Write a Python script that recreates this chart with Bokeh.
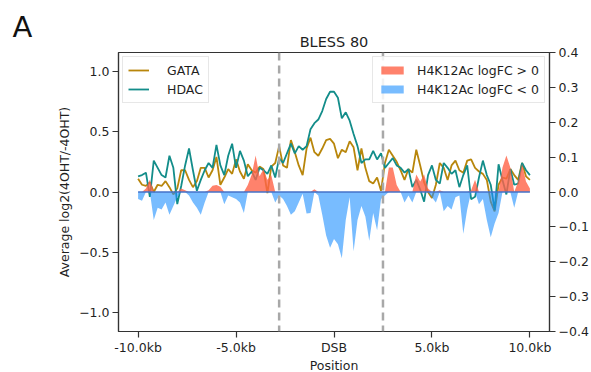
import numpy as np
from bokeh.plotting import figure
from bokeh.models import Range1d, LinearAxis, FixedTicker, Span, Legend, LegendItem, Title
from bokeh.embed import file_html
from bokeh.resources import INLINE

# ---------------- data ----------------
positions_kb = np.linspace(-10, 10, 101)

gata = [0.11, 0.06, 0.05, 0.08, 0.00, 0.06, 0.05, 0.09, 0.04, -0.02,
        0.03, 0.18, 0.18, 0.10, 0.04, 0.09, 0.20, 0.20, 0.12, 0.18,
        0.29, 0.06, 0.12, 0.19, 0.15, 0.27, 0.17, 0.11, 0.23, 0.18,
        0.16, 0.21, 0.19, -0.01, 0.21, 0.24, 0.38, 0.22, 0.20, 0.43,
        0.33, 0.22, 0.14, 0.36, 0.45, 0.33, 0.30, 0.36, 0.43, 0.44,
        0.40, 0.28, 0.35, 0.33, 0.42, 0.37, 0.18, 0.36, 0.20, 0.09,
        0.07, 0.12, 0.01, 0.24, 0.35, 0.30, 0.25, 0.18, 0.10, 0.19,
        0.16, 0.35, 0.22, 0.08, 0.00, -0.05, 0.06, 0.24, 0.20, 0.10,
        0.22, 0.26, 0.18, 0.16, 0.26, 0.27, 0.20, 0.17, 0.15, 0.10,
        -0.08, -0.16, 0.06, 0.12, 0.11, 0.19, 0.14, 0.10, 0.24, 0.13,
        0.10]

hdac = [0.13, 0.14, 0.16, -0.04, 0.26, 0.20, 0.14, 0.12, 0.30, 0.20,
        -0.10, 0.05, 0.22, 0.36, 0.18, 0.01, 0.10, 0.18, 0.24, 0.20,
        0.39, 0.22, 0.14, 0.30, 0.40, 0.20, 0.34, 0.26, 0.13, 0.17,
        0.10, 0.20, 0.18, 0.15, 0.22, 0.12, 0.28, 0.24, 0.32, 0.40,
        0.32, 0.38, 0.35, 0.38, 0.52, 0.57, 0.60, 0.67, 0.77, 0.83,
        0.83, 0.78, 0.61, 0.66, 0.59, 0.48, 0.38, 0.24, 0.27, 0.27,
        0.34, 0.27, 0.32, 0.20, 0.24, 0.28, 0.22, 0.20, 0.16, 0.19,
        0.04, 0.10, 0.02, -0.08, 0.14, 0.22, 0.10, 0.07, 0.24, 0.20,
        0.15, 0.18, 0.04, 0.14, 0.22, -0.06, -0.04, 0.12, 0.26, 0.14,
        0.06, -0.15, 0.23, 0.10, -0.02, 0.19, 0.06, 0.07, 0.24, 0.18,
        0.14]

h4k12ac = [-0.020, -0.025, 0.010, 0.035, -0.080, -0.045, -0.050, -0.030, -0.065, -0.040,
           -0.015, 0.010, 0.005, -0.010, -0.030, -0.045, -0.065, -0.030, 0.005, 0.018,
           0.020, 0.015, -0.035, -0.010, -0.015, -0.020, -0.030, -0.060, 0.020, 0.050,
           0.105, 0.045, 0.065, 0.035, 0.048, -0.030, -0.010, -0.020, -0.040, -0.065,
           -0.055, -0.030, -0.005, -0.062, -0.060, 0.008, -0.010, -0.065, -0.125, -0.160,
           -0.135, -0.150, -0.190, -0.080, -0.015, -0.170, -0.080, -0.040, -0.070, -0.140,
           -0.060, -0.110, -0.020, -0.010, 0.070, 0.070, 0.020, 0.000, -0.030, -0.010,
           -0.030, 0.050, 0.030, 0.050, 0.010, -0.015, -0.030, 0.005, -0.055, -0.040,
           -0.050, -0.015, -0.010, -0.120, -0.050, 0.005, 0.035, -0.035, -0.020, -0.080,
           -0.130, -0.090, -0.060, 0.070, 0.105, 0.070, -0.045, 0.030, 0.080, 0.030,
           0.010]

boundaries_kb = [-2.8, 2.5]

x_ticks = [-10, -5, 0, 5, 10]
x_tick_labels = ["-10.0kb", "-5.0kb", "DSB", "5.0kb", "10.0kb"]
left_ticks = [-1.0, -0.5, 0.0, 0.5, 1.0]
left_tick_labels = ["\u22121.0", "\u22120.5", "0.0", "0.5", "1.0"]
right_ticks = [-0.4, -0.3, -0.2, -0.1, 0.0, 0.1, 0.2, 0.3, 0.4]
right_tick_labels = ["\u22120.4", "\u22120.3", "\u22120.2", "\u22120.1", "0.0", "0.1", "0.2", "0.3", "0.4"]

# ---------------- styling ----------------
FONT = "DejaVu Sans"
TXT = "#1f1f1f"
GATA_C = "#B8860B"
HDAC_C = "#138D8A"

p = figure(frame_width=431, frame_height=279,
           min_border_left=118, min_border_right=41, min_border_top=52, min_border_bottom=40,
           x_range=Range1d(-11, 11), y_range=Range1d(-1.155, 1.155),
           output_backend="svg", toolbar_location=None, title="A")
p.extra_y_ranges = {"h4": Range1d(-0.4, 0.4)}

# panel letter (outermost title)
p.title.align = "left"
p.title.offset = -106
p.title.standoff = -28
p.title.text_font = FONT
p.title.text_font_size = "29px"
p.title.text_font_style = "normal"
p.title.text_color = "#111111"

# chart title (closest to the frame)
p.add_layout(Title(text="BLESS 80", align="center", standoff=5,
                   text_font=FONT, text_font_size="14.5px", text_font_style="normal",
                   text_color=TXT), "above")

p.xgrid.visible = False
p.ygrid.visible = False
p.outline_line_color = "#333333"
p.outline_line_width = 1.2
p.background_fill_color = "white"
p.border_fill_color = "white"

def style_axis(ax):
    ax.axis_line_color = "#333333"
    ax.axis_line_width = 1.2
    ax.major_tick_line_color = "#333333"
    ax.major_tick_line_width = 1.2
    ax.major_tick_out = 6
    ax.major_tick_in = 0
    ax.minor_tick_line_color = None
    ax.major_label_text_font = FONT
    ax.major_label_text_font_size = "12.5px"
    ax.major_label_text_color = TXT
    ax.major_label_standoff = 3
    ax.axis_label_text_font = FONT
    ax.axis_label_text_font_size = "12.5px"
    ax.axis_label_text_font_style = "normal"
    ax.axis_label_text_color = TXT

xa = p.xaxis[0]
style_axis(xa)
xa.ticker = FixedTicker(ticks=x_ticks)
xa.major_label_overrides = {t: l for t, l in zip(x_ticks, x_tick_labels)}
xa.axis_label = "Position"
xa.major_label_standoff = 2
xa.axis_label_standoff = 0

ya = p.yaxis[0]
style_axis(ya)
ya.ticker = FixedTicker(ticks=left_ticks)
ya.major_label_overrides = {t: l for t, l in zip(left_ticks, left_tick_labels)}
ya.axis_label = "Average log2(4OHT/-4OHT)"
ya.axis_label_standoff = 4

ra = LinearAxis(y_range_name="h4")
style_axis(ra)
ra.ticker = FixedTicker(ticks=right_ticks)
ra.major_label_overrides = {t: l for t, l in zip(right_ticks, right_tick_labels)}
p.add_layout(ra, "right")

# lines (left axis)
r_gata = p.line(positions_kb, gata, line_color=GATA_C, line_width=1.8)
r_hdac = p.line(positions_kb, hdac, line_color=HDAC_C, line_width=1.8)

# fills (right axis)
h4 = np.array(h4k12ac)
r_pos = p.varea(x=positions_kb, y1=0, y2=np.maximum(h4, 0), fill_color="tomato", fill_alpha=0.8,
                y_range_name="h4")
r_neg = p.varea(x=positions_kb, y1=0, y2=np.minimum(h4, 0), fill_color="dodgerblue", fill_alpha=0.6,
                y_range_name="h4")
p.line([positions_kb[0], positions_kb[-1]], [0, 0], line_color="#4472C8", line_width=1.5,
       y_range_name="h4")

for b in boundaries_kb:
    p.add_layout(Span(location=b, dimension="height", line_color="#a8a8a8",
                      line_width=2.5, line_dash="8 5"))

def style_legend(lg):
    lg.label_text_font = FONT
    lg.label_text_font_size = "12.5px"
    lg.label_text_color = TXT
    lg.border_line_color = "#cfcfcf"
    lg.border_line_width = 1
    lg.background_fill_color = "white"
    lg.background_fill_alpha = 0.85
    lg.margin = 4
    lg.padding = 5
    lg.spacing = 3
    lg.label_height = 16
    lg.glyph_height = 16

leg1 = Legend(items=[LegendItem(label="GATA", renderers=[r_gata]),
                     LegendItem(label="HDAC", renderers=[r_hdac])],
              location="top_left")
style_legend(leg1)
leg1.glyph_width = 21
leg1.label_standoff = 18
p.add_layout(leg1)

leg2 = Legend(items=[LegendItem(label="H4K12Ac logFC > 0", renderers=[r_pos]),
                     LegendItem(label="H4K12Ac logFC < 0", renderers=[r_neg])],
              location="top_right")
style_legend(leg2)
leg2.glyph_width = 28
leg2.glyph_height = 10
leg2.label_standoff = 11
p.add_layout(leg2)

open("out.html", "w").write(file_html(p, INLINE))
